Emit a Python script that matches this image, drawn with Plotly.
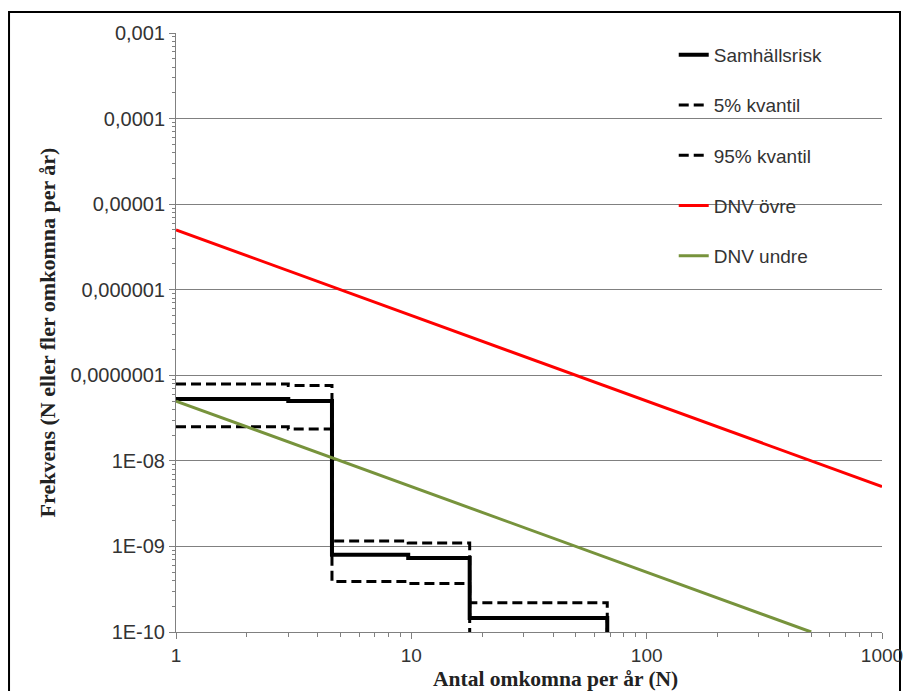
import plotly.graph_objects as go

# Data
samhall_x = [1, 3, 4.6, 9.7, 17.7, 68]
samhall_y = [5.3e-8, 5.0e-8, 8.0e-10, 7.3e-10, 1.46e-10, 1e-10]

kv5_x = [1, 3, 4.6, 9.7, 17.7]
kv5_y = [2.5e-8, 2.35e-8, 3.9e-10, 3.7e-10, 1e-10]

kv95_x = [1, 3, 4.6, 9.7, 17.7, 68]
kv95_y = [7.9e-8, 7.6e-8, 1.16e-9, 1.1e-9, 2.2e-10, 1e-10]

dnv_ovre_x = [1, 1000]
dnv_ovre_y = [5e-6, 5e-9]

dnv_undre_x = [1, 500]
dnv_undre_y = [5e-8, 1e-10]

y_tickvals = [1e-3, 1e-4, 1e-5, 1e-6, 1e-7, 1e-8, 1e-9, 1e-10]
y_ticktext = ["0,001", "0,0001", "0,00001", "0,000001", "0,0000001", "1E-08", "1E-09", "1E-10"]
x_tickvals = [1, 10, 100, 1000]
x_ticktext = ["1", "10", "100", "1000"]

x_minor = [m * d for d in [1, 10, 100] for m in range(2, 10)]
y_minor = [m * d for d in [1e-10, 1e-9, 1e-8, 1e-7, 1e-6, 1e-5, 1e-4] for m in range(2, 10)]

x_title = "<b>Antal omkomna per år (N)</b>"
y_title = "<b>Frekvens (N eller fler omkomna per år)</b>"

fig = go.Figure()
fig.add_trace(go.Scatter(x=samhall_x, y=samhall_y, mode="lines", line_shape="hv",
                         name="Samhällsrisk", legendgroup="a",
                         line=dict(color="black", width=4)))
fig.add_trace(go.Scatter(x=kv5_x, y=kv5_y, mode="lines", line_shape="hv",
                         name="5% kvantil", legendgroup="b",
                         line=dict(color="black", width=3, dash="10px,5px")))
fig.add_trace(go.Scatter(x=kv95_x, y=kv95_y, mode="lines", line_shape="hv",
                         name="95% kvantil", legendgroup="c",
                         line=dict(color="black", width=3, dash="10px,5px")))
fig.add_trace(go.Scatter(x=dnv_ovre_x, y=dnv_ovre_y, mode="lines",
                         name="DNV övre", legendgroup="d",
                         line=dict(color="#FF0000", width=3)))
fig.add_trace(go.Scatter(x=dnv_undre_x, y=dnv_undre_y, mode="lines",
                         name="DNV undre", legendgroup="e",
                         line=dict(color="#77933C", width=3)))

fig.update_layout(
    width=904, height=691,
    margin=dict(l=176, r=22, t=33, b=59),
    plot_bgcolor="white", paper_bgcolor="white",
    font=dict(family="Liberation Sans, Arial", size=19, color="#333333"),
    legend=dict(x=0.705, y=0.995, xanchor="left", yanchor="top",
                bgcolor="rgba(0,0,0,0)", tracegroupgap=22.5,
                font=dict(family="Liberation Sans, Arial", size=19, color="#333333")),
    xaxis=dict(type="log", range=[0, 3], tickvals=x_tickvals, ticktext=x_ticktext,
               automargin=False,
               tickfont=dict(size=19),
               showgrid=False, showline=True, linecolor="#808080", linewidth=1,
               ticks="outside", ticklen=6, tickcolor="#808080", zeroline=False,
               minor=dict(tickvals=x_minor, ticks="outside", ticklen=4,
                          tickcolor="#808080", showgrid=False)),
    yaxis=dict(type="log", range=[-10, -3], tickvals=y_tickvals, ticktext=y_ticktext,
               automargin=False,
               tickfont=dict(size=20),
               showgrid=True, gridcolor="#808080", gridwidth=1,
               showline=True, linecolor="#808080", linewidth=1,
               ticks="outside", ticklen=6, tickcolor="#808080", zeroline=False,
               minor=dict(tickvals=y_minor, ticks="outside", ticklen=3,
                          tickcolor="#808080", showgrid=False),
               title=dict(text=y_title, standoff=8,
                          font=dict(family="Liberation Serif, Times New Roman", size=22, color="#222222"))),
    annotations=[dict(text=x_title, xref="paper", yref="paper", x=0.538, y=-0.0785,
                      xanchor="center", yanchor="middle", showarrow=False,
                      font=dict(family="Liberation Serif, Times New Roman", size=21.5, color="#222222"))],
    shapes=[dict(type="rect", xref="paper", yref="paper",
                 x0=-0.2365, x1=1.0255, y0=-0.14, y1=1.035,
                 line=dict(color="black", width=2), layer="below")],
)

fig.write_html("out.html", config={"displayModeBar": False},
               post_script="document.body.style.margin='0';document.body.style.overflow='hidden';")
